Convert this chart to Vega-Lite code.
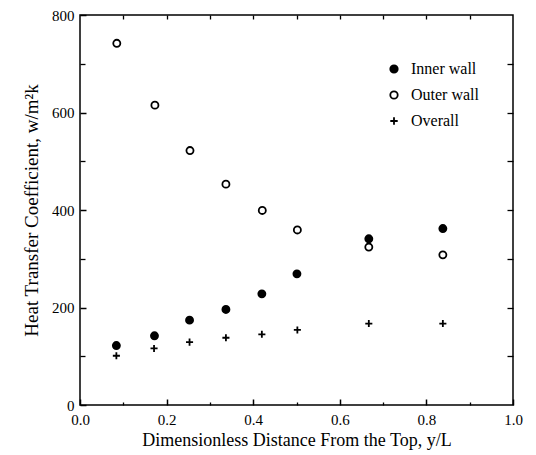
{
  "$schema": "https://vega.github.io/schema/vega-lite/v6.json",
  "width": 433,
  "height": 390,
  "autosize": "none",
  "padding": {"left": 80, "top": 15, "right": 23, "bottom": 50},
  "background": "white",
  "config": {
    "font": "Liberation Serif",
    "view": {"stroke": "black", "strokeWidth": 1.5},
    "axis": {"grid": false, "domain": false, "tickColor": "black", "labelColor": "black", "titleColor": "black", "labelFont": "Liberation Serif", "titleFont": "Liberation Serif", "titleFontWeight": "normal"},
    "legend": {"labelFont": "Liberation Serif", "labelColor": "black", "labelFontSize": 16, "symbolStrokeWidth": 1.8, "symbolSize": 55}
  },
  "data": {
    "values": [
      {"x": 0.085, "h": 742, "s": "Outer wall"},
      {"x": 0.173, "h": 615, "s": "Outer wall"},
      {"x": 0.254, "h": 522, "s": "Outer wall"},
      {"x": 0.337, "h": 453, "s": "Outer wall"},
      {"x": 0.421, "h": 399, "s": "Outer wall"},
      {"x": 0.502, "h": 359, "s": "Outer wall"},
      {"x": 0.667, "h": 324, "s": "Outer wall"},
      {"x": 0.838, "h": 308, "s": "Outer wall"},
      {"x": 0.084, "h": 122, "s": "Inner wall"},
      {"x": 0.172, "h": 142, "s": "Inner wall"},
      {"x": 0.253, "h": 174, "s": "Inner wall"},
      {"x": 0.337, "h": 196, "s": "Inner wall"},
      {"x": 0.42, "h": 228, "s": "Inner wall"},
      {"x": 0.501, "h": 269, "s": "Inner wall"},
      {"x": 0.667, "h": 341, "s": "Inner wall"},
      {"x": 0.838, "h": 362, "s": "Inner wall"},
      {"x": 0.084, "h": 101, "s": "Overall"},
      {"x": 0.171, "h": 116, "s": "Overall"},
      {"x": 0.253, "h": 129, "s": "Overall"},
      {"x": 0.337, "h": 138, "s": "Overall"},
      {"x": 0.42, "h": 145, "s": "Overall"},
      {"x": 0.502, "h": 154, "s": "Overall"},
      {"x": 0.667, "h": 167, "s": "Overall"},
      {"x": 0.838, "h": 167, "s": "Overall"}
    ]
  },
  "resolve": {"axis": {"x": "independent", "y": "independent"}},
  "layer": [
    {
      "mark": {"type": "point", "size": 50, "strokeWidth": 1.8, "opacity": 1},
      "encoding": {
        "x": {"field": "x", "type": "quantitative", "scale": {"domain": [0, 1], "nice": false},
          "axis": {"orient": "bottom", "values": [0, 0.2, 0.4, 0.6, 0.8, 1.0], "format": ".1f", "tickSize": -6, "tickWidth": 1.5, "labelPadding": 13, "labelFontSize": 15, "title": "Dimensionless Distance From the Top,  y/L", "titleFontSize": 18, "titlePadding": 4, "labelFlush": false}},
        "y": {"field": "h", "type": "quantitative", "scale": {"domain": [0, 800], "nice": false},
          "axis": {"orient": "left", "values": [0, 200, 400, 600, 800], "tickSize": -6, "tickWidth": 1.5, "labelPadding": 12, "labelFontSize": 15, "title": "Heat Transfer Coefficient,  w/m²k", "titleFontSize": 19, "titlePadding": 10, "labelFlush": false}},
        "shape": {"field": "s", "type": "nominal", "scale": {"domain": ["Inner wall", "Outer wall", "Overall"], "range": ["circle", "circle", "M-1,0H1M0,-1V1"]},
          "legend": {"title": null, "orient": "none", "legendX": 306, "legendY": 46, "rowPadding": 10, "labelOffset": 9}},
        "fill": {"field": "s", "type": "nominal", "scale": {"domain": ["Inner wall", "Outer wall", "Overall"], "range": ["black", "white", "black"]},
          "legend": {"title": null, "orient": "none", "legendX": 306, "legendY": 46, "rowPadding": 10, "labelOffset": 9}},
        "stroke": {"field": "s", "type": "nominal", "scale": {"domain": ["Inner wall", "Outer wall", "Overall"], "range": ["black", "black", "black"]},
          "legend": {"title": null, "orient": "none", "legendX": 306, "legendY": 46, "rowPadding": 10, "labelOffset": 9}}
      }
    },
    {
      "mark": {"type": "point", "opacity": 0},
      "encoding": {
        "x": {"field": "x", "type": "quantitative", "axis": {"orient": "top", "values": [0.1, 0.2, 0.3, 0.4, 0.5, 0.6, 0.7, 0.8, 0.9], "tickSize": -4, "tickWidth": 1.3, "labels": false, "title": null}},
        "y": {"field": "h", "type": "quantitative", "axis": {"orient": "right", "values": [100, 200, 300, 400, 500, 600, 700], "tickSize": -6, "tickWidth": 1.3, "labels": false, "title": null}}
      }
    },
    {
      "mark": {"type": "point", "opacity": 0},
      "encoding": {
        "x": {"field": "x", "type": "quantitative", "axis": {"orient": "bottom", "values": [0.1, 0.3, 0.5, 0.7, 0.9], "tickSize": -3, "tickWidth": 1.3, "labels": false, "title": null}},
        "y": {"field": "h", "type": "quantitative", "axis": {"orient": "left", "values": [100, 300, 500, 700], "tickSize": -5, "tickWidth": 1.3, "labels": false, "title": null}}
      }
    }
  ]
}
